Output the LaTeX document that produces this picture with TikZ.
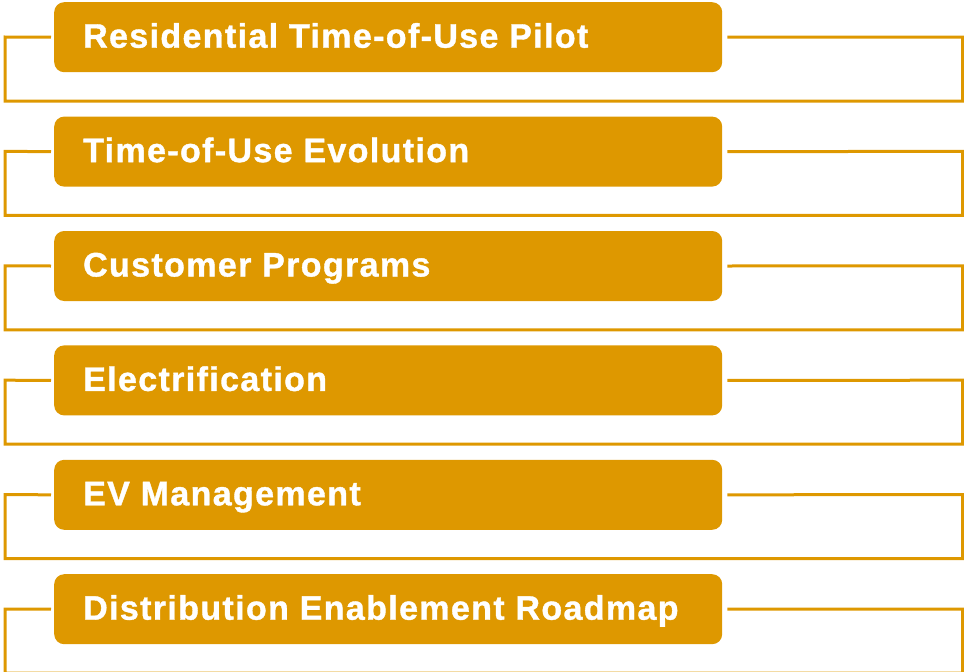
\documentclass[tikz,border=0pt]{standalone}
\usepackage{fontspec}
\setmainfont{Liberation Sans}
\newfontfamily\boxfont[LetterSpace=4,BoldFeatures={FakeBold=1.1}]{Liberation Sans}
\definecolor{gold}{RGB}{222,152,0}
\tikzset{
  itembox/.style={fill=gold, rounded corners=10pt, minimum width=668pt, minimum height=70pt, inner sep=0pt, anchor=north west},
  itemtext/.style={text=white, font=\boxfont\bfseries\fontsize{34}{37}\selectfont, anchor=base west, inner sep=0pt},
  frame/.style={draw=gold, line width=3pt}
}
\begin{document}
\begin{tikzpicture}[x=1pt,y=-1pt]
\useasboundingbox (0,0) rectangle (964,672);
\foreach \i/\t in {0/Residential Time-of-Use Pilot,1/Time-of-Use Evolution,2/Customer Programs,3/Electrification,4/EV Management,5/Distribution Enablement Roadmap}{
  \pgfmathsetmacro{\top}{2+114.4*\i}
  \node[itembox] (b\i) at (54,\top) {};
  \node[itemtext] (t\i) at ([xshift=29pt,yshift=-10.5pt]b\i.west) {\t};
  \coordinate (l\i) at ([xshift=-3pt]b\i.west);
  \coordinate (r\i) at ([xshift=5pt]b\i.east);
  \draw[frame] (l\i) -- (5,\top+35) -- (5,\top+99) -- (962.5,\top+99) -- (962.5,\top+35) -- (r\i);
}
\end{tikzpicture}
\end{document}
